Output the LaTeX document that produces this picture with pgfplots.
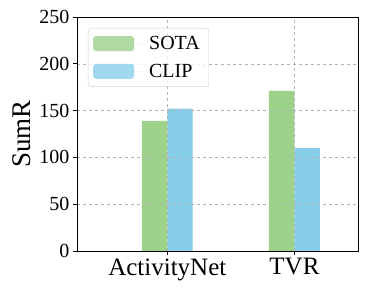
\documentclass[border=0pt]{standalone}
\usepackage{pgfplots}
\pgfplotsset{compat=1.18}
\usepackage{fontspec}
\setmainfont{Liberation Serif}
\definecolor{sotag}{RGB}{157,210,138}
\definecolor{clipb}{RGB}{135,206,235}
\begin{document}
\begin{tikzpicture}
\path[use as bounding box] (-77pt,-44pt) rectangle (292pt,251pt);
\begin{axis}[
  at={(0pt,0pt)}, anchor=south west,
  scale only axis, width=281pt, height=234pt,
  ymin=0, ymax=250, ytick={0,50,100,150,200,250},
  xmin=-0.71, xmax=1.5, xtick={0,1}, xticklabels={ActivityNet,TVR},
  ybar, bar width=0.2,
  axis on top,
  grid=major, grid style={dashed, gray!60, line width=0.6pt},
  axis line style={line width=0.8pt},
  tick align=outside, tick pos=left, major tick length=4pt,
  tick style={black, line width=0.7pt},
  /pgf/number format/assume math mode=true,
  yticklabel style={font=\fontsize{20}{24}\selectfont},
  xticklabel style={font=\fontsize{25}{30}\selectfont},
  ylabel={SumR},
  ylabel style={font=\fontsize{27}{32}\selectfont, at={(axis description cs:-0.196,0.5)}, anchor=center},
  legend style={at={(rel axis cs:0.039,0.953)}, anchor=north west,
    draw=gray!35, rounded corners=3pt, fill=white, fill opacity=0.8, text opacity=1,
    font=\fontsize{20}{24}\selectfont, inner xsep=5pt, inner ysep=6pt, row sep=9pt,
    nodes={inner xsep=4pt}},
  legend cell align=left,
  legend image code/.code={\fill[#1] (0pt,-7.5pt) rectangle (41pt,7.5pt); \path (0pt,0pt) -- (52pt,0pt);},
]
\addplot[fill=sotag, draw=none, bar shift=-0.1] coordinates {(0,139) (1,171)};
\addplot[fill=clipb, draw=none, bar shift=0.1] coordinates {(0,152) (1,110)};
\legend{SOTA,CLIP}
\end{axis}
\end{tikzpicture}
\end{document}
